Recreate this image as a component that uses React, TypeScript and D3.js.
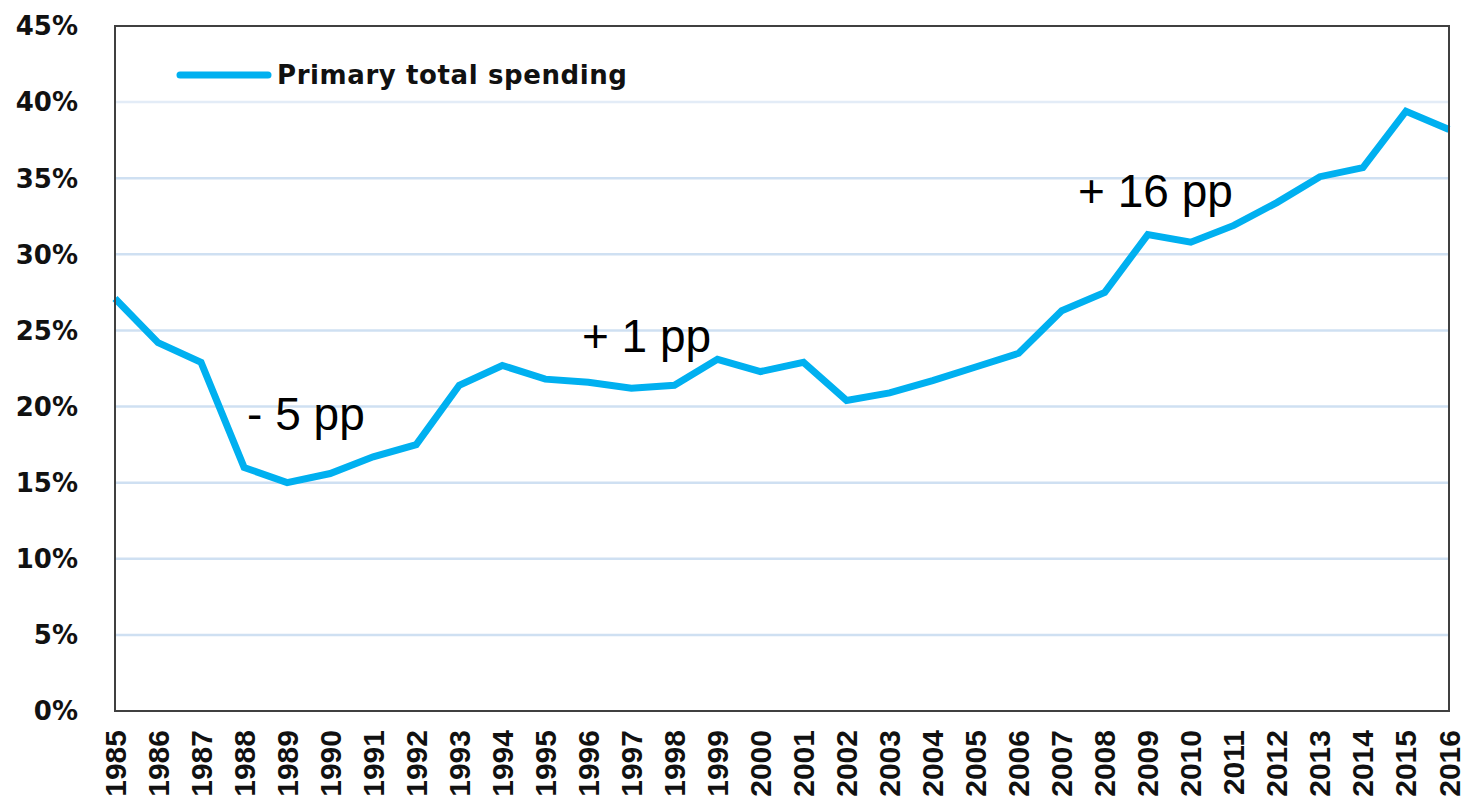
import { scaleLinear, line, range } from 'd3'

const width = 1466,
      height = 802,
      margin = { top: 26, right: 17, bottom: 91, left: 115 },
      innerWidth = width - (margin.left + margin.right),
      innerHeight = height - (margin.top + margin.bottom)

const years = range(1985, 2017)

// primary total spending, %
const spending = [
  27.1, 24.2, 22.9, 16.0, 15.0, 15.6, 16.7, 17.5, 21.4, 22.7,
  21.8, 21.6, 21.2, 21.4, 23.1, 22.3, 22.9, 20.4, 20.9, 21.7,
  22.6, 23.5, 26.3, 27.5, 31.3, 30.8, 31.9, 33.4, 35.1, 35.7,
  39.4, 38.2
]

const yTicks = [0, 5, 10, 15, 20, 25, 30, 35, 40, 45]

const notes = [
  { text: '- 5 pp', year: 1988.07, value: 18.46 },
  { text: '+ 1 pp', year: 1995.85, value: 23.59 },
  { text: '+ 16 pp', year: 2007.38, value: 33.11 }
]

const x = scaleLinear()
  .domain([1985, 2016])
  .range([0, innerWidth])

const y = scaleLinear()
  .domain([0, 45])
  .range([innerHeight, 0])

const path = line<number>()
  .x((d, i) => x(years[i]))
  .y(d => y(d))

export default function App() {
  return (
    <div style={{ position: 'absolute', left: 0, top: 0 }}>
      <svg width={width} height={height} style={{ display: 'block', background: '#fff' }}>
        <g transform={`translate(${margin.left}, ${margin.top})`}>

          <g className='grid'>
            { yTicks.filter(t => t > 0 && t < 45).map(t =>
              <line
                key={t}
                x1='0' x2={innerWidth}
                y1={y(t)} y2={y(t)}
                stroke={t === 40 ? '#e3ecf7' : '#cfe0f2'}
                strokeWidth='2.5'
              />
            )}
          </g>

          <g className='y-axis'>
            { yTicks.map(t =>
              <text
                key={t}
                x={-37} y={y(t)}
                dy='0.36em'
                textAnchor='end'
                fontFamily='DejaVu Sans'
                fontWeight='bold'
                fontSize='26'
                fill='#111'
              >{t}%</text>
            )}
          </g>

          <g className='x-axis'>
            { years.map(yr =>
              <text
                key={yr}
                transform={`translate(${x(yr)}, ${innerHeight + 19}) rotate(-90)`}
                dy='0.35em'
                textAnchor='end'
                fontFamily='Liberation Sans'
                fontWeight='bold'
                fontSize='30'
                fill='#111'
              >{yr}</text>
            )}
          </g>

          <path
            d={path(spending) || ''}
            fill='none'
            stroke='#00b0f0'
            strokeWidth='7'
            strokeLinejoin='miter'
          />

          <rect
            x='0' y='0'
            width={innerWidth} height={innerHeight}
            fill='none'
            stroke='#404040'
            strokeWidth='2'
          />

          <g className='notes'>
            { notes.map(n =>
              <text
                key={n.text}
                x={x(n.year)} y={y(n.value)}
                fontFamily='Liberation Sans'
                fontSize='46'
                fill='#000'
              >{n.text}</text>
            )}
          </g>

          <g className='legend' transform='translate(65, 49)'>
            <line x1='0' x2='88' y1='0' y2='0' stroke='#00b0f0' strokeWidth='7' strokeLinecap='round' />
            <text
              x='97' y='0' dy='0.36em'
              fontFamily='DejaVu Sans'
              fontWeight='bold'
              fontSize='26'
              letterSpacing='0.6'
              fill='#111'
            >Primary total spending</text>
          </g>
        </g>
      </svg>
    </div>
  )
}
